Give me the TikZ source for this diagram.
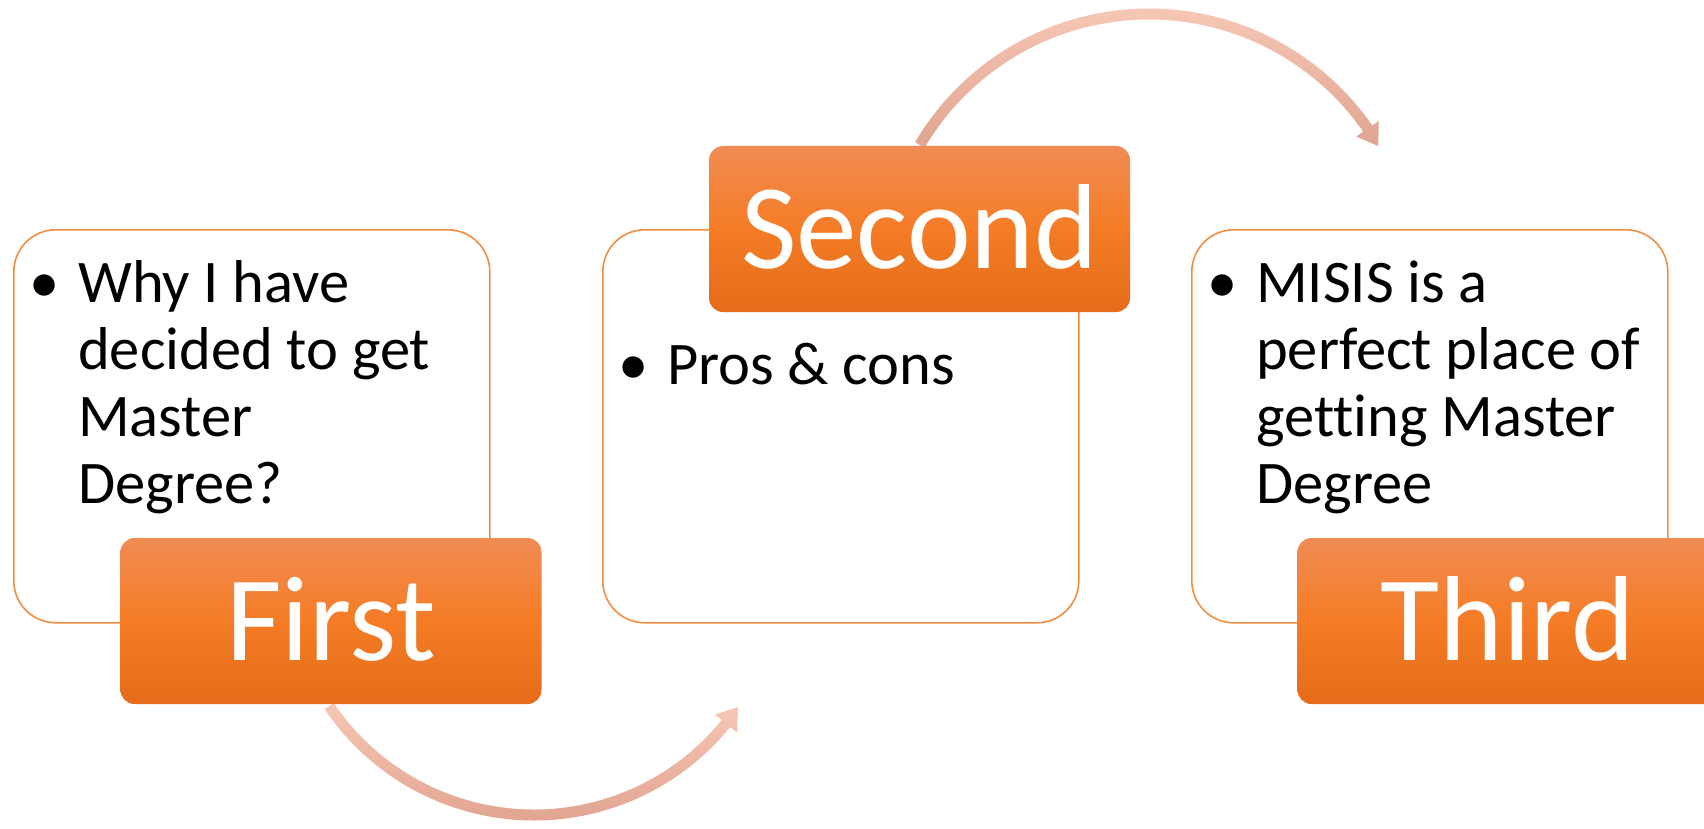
\documentclass[tikz,border=0pt]{standalone}
\usepackage{fontspec}
\setmainfont{Carlito}[Ligatures={NoCommon}]
\definecolor{panelline}{RGB}{241,142,66}
\definecolor{tabtop}{RGB}{240,140,84}
\definecolor{tabmid}{RGB}{245,124,37}
\definecolor{tabbot}{RGB}{228,108,26}
\definecolor{arrlight}{RGB}{247,199,182}
\definecolor{arrdark}{RGB}{224,164,143}
\begin{document}
\begin{tikzpicture}[x=1pt,y=-1pt,
 panel/.style={draw=panelline, line width=1.6pt, fill=white, rounded corners=42pt, minimum width=476pt, minimum height=393pt, inner sep=0pt, anchor=north west},
 tab/.style={rounded corners=14pt, top color=tabtop, bottom color=tabbot, middle color=tabmid, minimum width=421pt, minimum height=166pt, inner sep=0pt, text height=78pt, text depth=0pt, text=white, font=\fontsize{121}{121}\selectfont},
 body/.style={inner sep=0pt, anchor=base west, font=\fontsize{60.5}{67}\selectfont},
 bul/.style={inner sep=0pt, anchor=base, font=\fontsize{60.5}{67}\selectfont},
 arrowband/.style={top color=arrlight, bottom color=arrdark}]
\useasboundingbox (0,0) rectangle (1704,829);
\clip (0,0) rectangle (1704,829);
% panels
\node[panel] (p1) at (13,229) {};
\node[panel] (p2) at (602,229) {};
\node[panel] (p3) at (1191,229) {};
% arrows
\shade[arrowband, shift={(534,568)}] (146:252.5) arc[start angle=146, end angle=39, radius=252.5]
  -- (39:261) -- (34.2:247) -- (39:233) -- (39:241.5)
  arc[start angle=39, end angle=146, radius=241.5] -- cycle;
\shade[arrowband, shift={(1149,280)}] (210.5:271.5) arc[start angle=210.5, end angle=325.3, radius=271.5]
  -- (325.3:279.5) -- (329.7:265.5) -- (325.3:252) -- (325.3:260.5)
  arc[start angle=325.3, end angle=210.5, radius=260.5] -- cycle;
% tabs
\node[tab] (first) at (331,621) {First};
\node[tab] (second) at (919.5,229) {Second};
\node[tab] (third) at (1508,621) {Third};
% bullet texts
\node[bul] (b1) at (45,302) {•};
\node[body] (t1) at (78,302) {\vtop{\hbox{Why I have}\hbox{decided to get}\hbox{Master}\hbox{Degree?}}};
\node[bul] (b2) at (634,384) {•};
\node[body] (t2) at (667,384) {Pros \& cons};
\node[bul] (b3) at (1223,302) {•};
\node[body] (t3) at (1256,302) {\vtop{\hbox{MISIS is a}\hbox{perfect place of}\hbox{getting Master}\hbox{Degree}}};
\end{tikzpicture}
\end{document}
